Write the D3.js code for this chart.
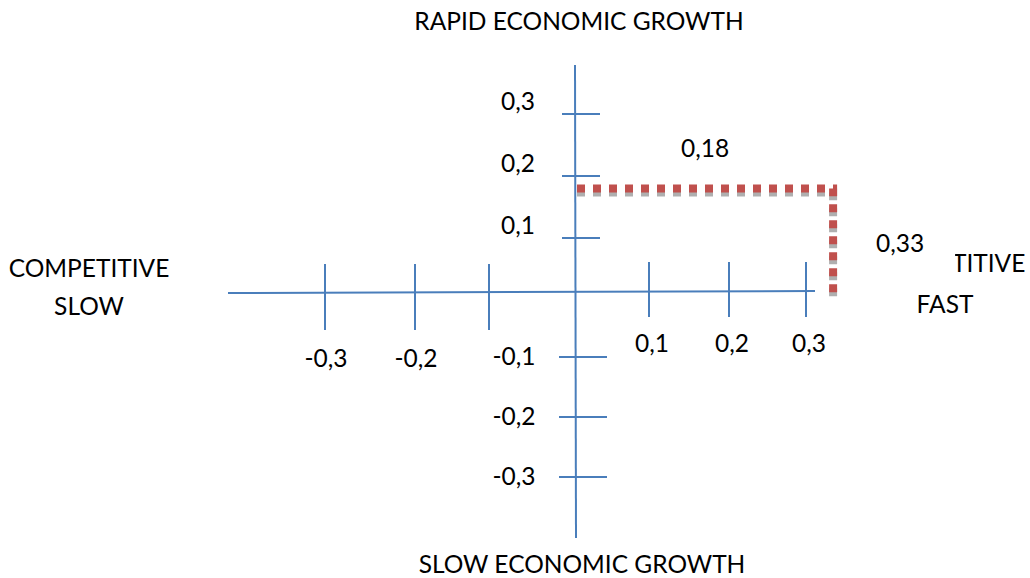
<!DOCTYPE html>
<html>
<head>
<meta charset="utf-8">
<script src="https://cdn.jsdelivr.net/npm/d3@7"></script>
<style>
  html, body { margin: 0; padding: 0; background: #fff; }
  svg { display: block; }
  text { font-family: Lato, "Open Sans", sans-serif; fill: #000; }
</style>
</head>
<body>
<svg id="chart" width="1030" height="578"></svg>
<script>
// ---- data ----
const xTickValues = [-0.3, -0.2, -0.1, 0.1, 0.2, 0.3];
const xTickLabels = ["-0,3", "-0,2", "", "0,1", "0,2", "0,3"];
const yTickValues = [0.3, 0.2, 0.1, -0.1, -0.2, -0.3];
const yTickLabels = ["0,3", "0,2", "0,1", "-0,1", "-0,2", "-0,3"];
const pointX = 0.33;
const pointY = 0.18;
const pointXLabel = "0,33";
const pointYLabel = "0,18";
const topLabel = "RAPID ECONOMIC GROWTH";
const bottomLabel = "SLOW ECONOMIC GROWTH";
const leftLabel = ["COMPETITIVE", "SLOW"];
const rightLabel = ["COMPETITIVE", "FAST"];

// ---- layout ----
const svg = d3.select("#chart");
const AXIS = "#4a7ebb";
const FS = 24.5;

// hand-placed ticks: piecewise-linear scales through each tick
const x = d3.scaleLinear()
  .domain([-0.3, -0.2, -0.1, 0, 0.1, 0.2, 0.3])
  .range([325, 415, 489, 575, 649, 729, 806]);
const y = d3.scaleLinear()
  .domain([-0.3, -0.2, -0.1, 0, 0.1, 0.2, 0.3])
  .range([477, 417, 357, 292, 238, 176, 114]);

const x0 = x(0), y0 = y(0);

// axes lines
const g = svg.append("g");
g.append("line").attr("x1", x(-0.3) - 97).attr("x2", x(0.3) + 9)
  .attr("y1", y0 + 1).attr("y2", y0 - 1)
  .attr("stroke", AXIS).attr("stroke-width", 2);
g.append("line").attr("x1", x0).attr("x2", x0 + 1)
  .attr("y1", y(0.3) - 49).attr("y2", y(-0.3) + 61)
  .attr("stroke", AXIS).attr("stroke-width", 2);

// x ticks
g.selectAll(".xt").data(xTickValues).join("line")
  .attr("class", "xt")
  .attr("x1", d => x(d)).attr("x2", d => x(d))
  .attr("y1", d => y0 - (d > 0 ? 30 : 28))
  .attr("y2", d => y0 + (d > 0 ? 25 : 38))
  .attr("stroke", AXIS).attr("stroke-width", 2);

// y ticks
g.selectAll(".yt").data(yTickValues).join("line")
  .attr("class", "yt")
  .attr("x1", d => x0 - (d > 0 ? 13 : 16))
  .attr("x2", d => x0 + (d > 0 ? 25 : 32))
  .attr("y1", d => y(d)).attr("y2", d => y(d))
  .attr("stroke", AXIS).attr("stroke-width", 2);

// x tick labels
g.selectAll(".xl").data(xTickValues).join("text")
  .attr("class", "xl")
  .attr("x", d => x(d) + (d > 0 ? 3 : 1))
  .attr("y", d => y0 + (d > 0 ? 54 : 69))
  .attr("text-anchor", "middle")
  .attr("dominant-baseline", "middle")
  .attr("font-size", FS)
  .text((d, i) => xTickLabels[i]);

// y tick labels
g.selectAll(".yl").data(yTickValues).join("text")
  .attr("class", "yl")
  .attr("x", d => x0 - (d > 0 ? 57 : 61))
  .attr("y", d => y(d) + (d > 0 ? -10 : 2))
  .attr("text-anchor", "middle")
  .attr("dominant-baseline", "middle")
  .attr("font-size", FS)
  .text((d, i) => yTickLabels[i]);

// dotted guide line (with grey shadow)
const guide = d3.line()([
  [x0 + 2, y(pointY)],
  [x(pointX) + 4, y(pointY)],
  [x(pointX) + 4, y0 + 2]
]);
g.append("path").attr("d", guide)
  .attr("transform", "translate(0,4)")
  .attr("fill", "none").attr("stroke", "#a6a6a6").attr("stroke-opacity", 0.9)
  .attr("stroke-width", 8).attr("stroke-dasharray", "8,8");
g.append("path").attr("d", guide)
  .attr("fill", "none").attr("stroke", "#c0504d")
  .attr("stroke-width", 8).attr("stroke-dasharray", "8,8");

// side labels
svg.append("text").attr("x", 579).attr("y", 24)
  .attr("text-anchor", "middle").attr("dominant-baseline", "middle")
  .attr("font-size", FS).text(topLabel);
svg.append("text").attr("x", 582).attr("y", 567)
  .attr("text-anchor", "middle").attr("dominant-baseline", "middle")
  .attr("font-size", FS).text(bottomLabel);

svg.selectAll(".ll").data(leftLabel).join("text")
  .attr("class", "ll")
  .attr("x", 89).attr("y", (d, i) => 271 + i * 38)
  .attr("text-anchor", "middle").attr("dominant-baseline", "middle")
  .attr("font-size", FS).text(d => d);

svg.selectAll(".rl").data(rightLabel).join("text")
  .attr("class", "rl")
  .attr("x", 945).attr("y", (d, i) => 266 + i * 41)
  .attr("text-anchor", "middle").attr("dominant-baseline", "middle")
  .attr("font-size", FS).text(d => d);

// point value labels (the x label box hides part of the right side label)
svg.append("rect").attr("x", x(pointX) + 28).attr("y", 224)
  .attr("width", 98).attr("height", 48).attr("fill", "#fff");
svg.append("text").attr("x", x(pointX) + 71).attr("y", 246)
  .attr("text-anchor", "middle").attr("dominant-baseline", "middle")
  .attr("font-size", FS).text(pointXLabel);
svg.append("text").attr("x", (x0 + x(pointX)) / 2 + 3).attr("y", 151)
  .attr("text-anchor", "middle").attr("dominant-baseline", "middle")
  .attr("font-size", FS).text(pointYLabel);
</script>
</body>
</html>
